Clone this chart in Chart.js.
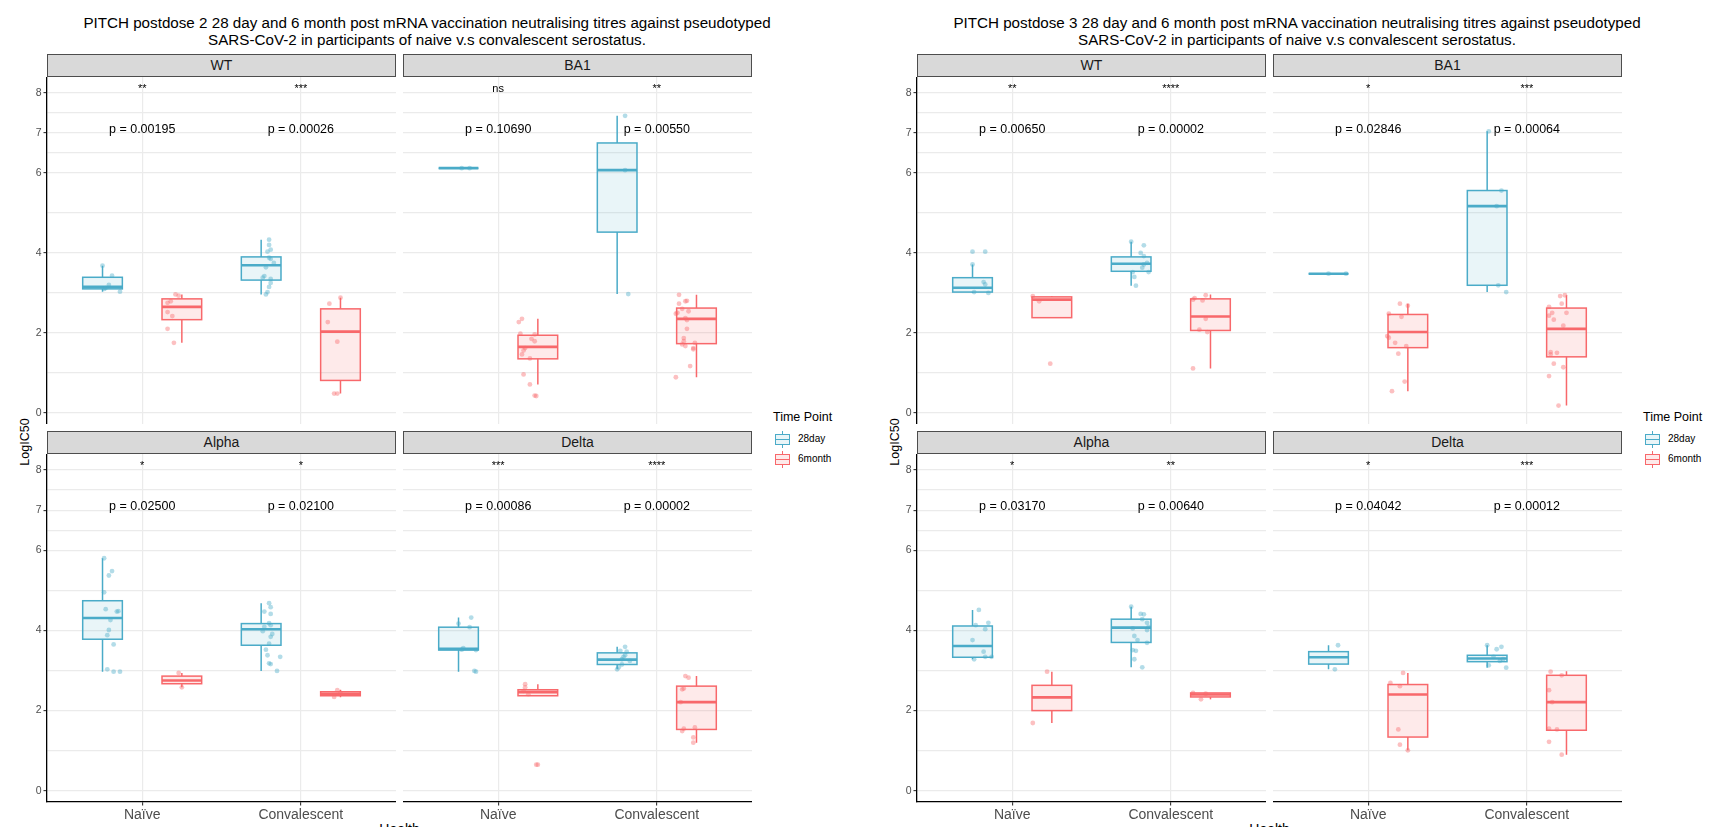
<!DOCTYPE html>
<html>
<head>
<meta charset="utf-8">
<title>PITCH neutralising titres</title>
<script src="https://cdn.jsdelivr.net/npm/chart.js@4.4.1/dist/chart.umd.min.js"></script>
<style>
  body { margin: 0; width: 1721px; height: 827px; overflow: hidden; background: #fff; position: relative;
         font-family: "Liberation Sans", Arial, Helvetica, sans-serif; }
  canvas { position: absolute; }
  .title { position: absolute; width: 900px; text-align: center; font-size: 15.2px; line-height: 16.7px; color: #000; white-space: nowrap; }
  .strip { position: absolute; box-sizing: border-box; height: 23px; background: #d9d9d9; border: 1px solid #4d4d4d;
           font-size: 14px; line-height: 21px; text-align: center; color: #1a1a1a; }
  .ytitle { position: absolute; width: 100px; text-align: center; font-size: 12.5px; line-height: 14px;
            transform: rotate(-90deg); transform-origin: 50% 50%; color: #000; }
  .xtitle { position: absolute; width: 100px; text-align: center; font-size: 14px; line-height: 16px; color: #000; }
  .legtitle { position: absolute; font-size: 12.5px; line-height: 14px; color: #000; white-space: nowrap; }
  .legitem { position: absolute; font-size: 10px; line-height: 12px; color: #000; white-space: nowrap; }
  .key { position: absolute; width: 17px; height: 17px; }
  .key .wh { position: absolute; left: 8px; top: 0; width: 1.3px; height: 17px; }
  .key .bx { position: absolute; left: 1px; top: 3px; width: 15px; height: 11px; box-sizing: border-box; border: 1.3px solid; }
  .key .md { position: absolute; left: 1px; top: 8px; width: 15px; height: 1.6px; }
</style>
</head>
<body>
<script>
// ---- data ----
const categories = ['Naïve', 'Convalescent'];
const timePoints = ['28day', '6month'];
const variants = ['WT', 'BA1', 'Alpha', 'Delta'];
const yLabelTicks = [0, 2, 4, 6, 7, 8];
const yGridTicks = [0, 1, 2, 3, 4, 5, 6, 6.5, 7, 7.5, 8];

const titles = [
    ['PITCH postdose 2 28 day and 6 month post mRNA vaccination neutralising titres against pseudotyped',
     'SARS-CoV-2 in participants of naive v.s convalescent serostatus.'],
    ['PITCH postdose 3 28 day and 6 month post mRNA vaccination neutralising titres against pseudotyped',
     'SARS-CoV-2 in participants of naive v.s convalescent serostatus.']
];

// boxes: [lower whisker, Q1, median, Q3, upper whisker]
// order: Naïve 28day, Naïve 6month, Convalescent 28day, Convalescent 6month
// points: [jitter, LogIC50]

// postdose 2
const d2WTBox = [[3.03, 3.10, 3.15, 3.39, 3.68], [1.75, 2.33, 2.65, 2.85, 2.96], [2.96, 3.32, 3.69, 3.90, 4.33], [0.48, 0.81, 2.03, 2.60, 2.88]];
const d2WTPts = [
    [[0.00, 3.68], [0.06, 3.43], [0.04, 3.20], [0.02, 3.12], [0.11, 3.03], [0.01, 3.10]],
    [[-0.04, 2.96], [-0.02, 2.93], [-0.07, 2.79], [-0.09, 2.75], [-0.09, 2.52], [-0.06, 2.42], [-0.09, 2.10], [-0.05, 1.75]],
    [[0.05, 4.33], [0.05, 4.20], [0.06, 4.08], [0.04, 4.03], [0.06, 3.85], [0.05, 3.88], [0.08, 3.75], [0.03, 3.64], [0.02, 3.42],
     [0.01, 3.38], [0.06, 3.35], [0.05, 3.15], [0.04, 3.02], [0.03, 2.96], [0.06, 3.25]],
    [[0.00, 2.88], [-0.07, 2.73], [-0.08, 2.27], [-0.02, 1.78], [-0.02, 0.48], [-0.04, 0.48]]
];
const d2WTP = ['p = 0.00195', 'p = 0.00026'];
const d2WTSig = ['**', '***'];

const d2BA1Box = [[6.12, 6.12, 6.12, 6.12, 6.12], [0.71, 1.35, 1.65, 1.94, 2.35], [2.97, 4.52, 6.07, 6.75, 7.43], [0.89, 1.73, 2.35, 2.62, 2.95]];
const d2BA1Pts = [
    [[0.07, 6.12], [0.02, 6.12]],
    [[-0.10, 2.35], [-0.12, 2.27], [-0.02, 1.96], [-0.11, 1.98], [-0.04, 1.85], [-0.02, 1.79], [-0.08, 1.62], [-0.09, 1.56],
     [-0.10, 1.46], [-0.05, 1.36], [-0.09, 0.96], [-0.05, 0.71], [-0.02, 0.43], [-0.01, 0.42]],
    [[0.05, 7.43], [0.05, 6.07], [0.07, 2.97]],
    [[-0.11, 2.95], [-0.11, 2.73], [-0.07, 2.79], [-0.06, 2.80], [-0.09, 2.60], [-0.12, 2.50], [-0.13, 2.48], [-0.05, 2.54],
     [-0.07, 2.37], [-0.06, 2.32], [-0.06, 2.10], [-0.08, 1.87], [-0.08, 1.79], [-0.01, 1.75], [-0.09, 1.71], [-0.07, 1.67],
     [-0.02, 1.62], [-0.02, 1.59], [-0.04, 1.17], [-0.13, 0.89]]
];
const d2BA1P = ['p = 0.10690', 'p = 0.00550'];
const d2BA1Sig = ['ns', '**'];

const d2AlphaBox = [[2.97, 3.78, 4.31, 4.74, 5.80], [2.58, 2.67, 2.75, 2.86, 2.94], [2.99, 3.63, 4.03, 4.17, 4.68], [2.33, 2.37, 2.42, 2.47, 2.52]];
const d2AlphaPts = [
    [[0.01, 5.80], [0.06, 5.48], [0.04, 5.37], [0.01, 4.95], [0.02, 4.53], [0.10, 4.48], [0.09, 4.47], [0.05, 4.26], [0.04, 4.01],
     [0.03, 3.88], [0.07, 3.65], [0.03, 3.03], [0.07, 2.97], [0.11, 2.97]],
    [[-0.02, 2.94], [0.00, 2.58]],
    [[0.05, 4.68], [0.06, 4.58], [0.02, 4.47], [0.06, 4.41], [0.05, 4.18], [0.06, 4.13], [0.02, 4.09], [0.01, 3.98], [0.07, 3.91],
     [0.06, 3.84], [0.05, 3.67], [0.03, 3.52], [0.04, 3.38], [0.12, 3.34], [0.05, 3.18], [0.06, 3.16], [0.10, 2.99]],
    [[-0.02, 2.51], [-0.04, 2.34], [0.00, 2.44]]
];
const d2AlphaP = ['p = 0.02500', 'p = 0.02100'];
const d2AlphaSig = ['*', '*'];

const d2DeltaBox = [[2.97, 3.51, 3.54, 4.08, 4.32], [2.37, 2.37, 2.46, 2.52, 2.66], [3.03, 3.15, 3.27, 3.44, 3.59], [1.20, 1.53, 2.21, 2.61, 2.86]];
const d2DeltaPts = [
    [[0.08, 4.32], [0.00, 4.17], [0.07, 4.08], [0.03, 3.56], [0.02, 3.52], [0.11, 3.51], [0.10, 2.99], [0.11, 2.97]],
    [[-0.08, 2.66], [-0.08, 2.58], [-0.09, 2.49], [-0.06, 2.41], [-0.01, 0.65], [0.00, 0.65]],
    [[0.05, 3.59], [0.02, 3.49], [0.06, 3.47], [0.05, 3.38], [0.03, 3.28], [0.08, 3.24], [0.03, 3.15], [0.01, 3.08], [0.00, 3.03], [0.04, 3.34]],
    [[-0.07, 2.86], [-0.05, 2.82], [-0.08, 2.55], [-0.09, 2.53], [-0.10, 2.21], [-0.08, 1.55], [-0.01, 1.58], [-0.09, 1.49], [-0.02, 1.33], [-0.02, 1.20]]
];
const d2DeltaP = ['p = 0.00086', 'p = 0.00002'];
const d2DeltaSig = ['***', '****'];

// postdose 3
const d3WTBox = [[3.00, 3.02, 3.13, 3.38, 3.71], [2.38, 2.38, 2.83, 2.90, 2.92], [3.18, 3.54, 3.73, 3.90, 4.28], [1.11, 2.06, 2.41, 2.85, 2.96]];
const d3WTPts = [
    [[0.00, 4.03], [0.08, 4.03], [0.00, 3.71], [0.07, 3.27], [0.08, 3.21], [0.01, 3.02], [0.10, 3.00]],
    [[-0.12, 2.92], [-0.08, 2.79], [-0.01, 1.23]],
    [[0.00, 4.28], [0.08, 4.19], [0.06, 4.00], [0.08, 3.92], [0.10, 3.75], [0.08, 3.71], [0.07, 3.63], [0.11, 3.52], [0.01, 3.52], [0.02, 3.40], [0.03, 3.18]],
    [[-0.03, 2.94], [-0.10, 2.87], [-0.11, 2.83], [-0.05, 2.81], [-0.03, 2.35], [-0.07, 2.08], [-0.02, 2.02], [-0.11, 1.11]]
];
const d3WTP = ['p = 0.00650', 'p = 0.00002'];
const d3WTSig = ['**', '****'];

const d3BA1Box = [[3.48, 3.48, 3.48, 3.48, 3.48], [0.54, 1.63, 2.02, 2.46, 2.73], [3.02, 3.19, 5.17, 5.56, 7.04], [0.18, 1.40, 2.10, 2.62, 2.94]];
const d3BA1Pts = [
    [[0.00, 3.48], [0.11, 3.48]],
    [[-0.05, 2.73], [0.00, 2.68], [-0.12, 2.48], [-0.04, 2.40], [-0.13, 1.92], [-0.12, 1.88], [-0.08, 1.75], [-0.01, 1.67], [-0.06, 1.48], [-0.02, 0.78], [-0.10, 0.54]],
    [[0.01, 7.04], [0.09, 5.56], [0.06, 5.17], [0.07, 3.19], [0.12, 3.02]],
    [[-0.04, 2.92], [-0.01, 2.94], [-0.11, 2.65], [-0.03, 2.73], [-0.09, 2.50], [0.00, 2.50], [-0.11, 2.43], [-0.08, 2.33],
     [-0.02, 2.18], [-0.10, 1.52], [-0.06, 1.50], [-0.10, 1.46], [-0.08, 1.23], [-0.02, 1.14], [-0.11, 0.92], [-0.05, 0.18]]
];
const d3BA1P = ['p = 0.02846', 'p = 0.00064'];
const d3BA1Sig = ['*', '***'];

const d3AlphaBox = [[3.28, 3.33, 3.61, 4.11, 4.51], [1.69, 2.00, 2.33, 2.63, 2.97], [3.08, 3.70, 4.07, 4.28, 4.59], [2.28, 2.34, 2.40, 2.44, 2.44]];
const d3AlphaPts = [
    [[0.04, 4.51], [0.10, 4.19], [0.02, 4.13], [0.08, 4.03], [0.00, 3.76], [0.07, 3.47], [0.08, 3.34], [0.12, 3.34], [0.01, 3.28]],
    [[-0.03, 2.97], [-0.12, 1.69]],
    [[0.00, 4.59], [0.06, 4.41], [0.08, 4.40], [0.07, 4.28], [0.10, 4.19], [0.11, 4.09], [0.01, 4.05], [0.10, 4.01], [0.02, 3.86],
     [0.04, 3.76], [0.10, 3.69], [0.01, 3.51], [0.03, 3.49], [0.02, 3.28], [0.07, 3.08]],
    [[-0.11, 2.44], [-0.03, 2.42], [-0.06, 2.28]]
];
const d3AlphaP = ['p = 0.03170', 'p = 0.00640'];
const d3AlphaSig = ['*', '**'];

const d3DeltaBox = [[3.03, 3.16, 3.33, 3.47, 3.63], [1.01, 1.34, 2.40, 2.65, 2.94], [3.07, 3.22, 3.30, 3.38, 3.63], [0.90, 1.51, 2.21, 2.88, 2.98]];
const d3DeltaPts = [
    [[0.06, 3.63], [0.04, 3.03]],
    [[-0.03, 2.94], [-0.11, 2.69], [-0.05, 2.61], [-0.06, 1.53], [-0.05, 1.15], [0.00, 1.01]],
    [[0.00, 3.63], [0.09, 3.59], [0.06, 3.53], [0.04, 3.34], [0.08, 3.24], [0.10, 3.28], [0.01, 3.13], [0.12, 3.07]],
    [[-0.10, 2.97], [-0.03, 2.88], [-0.11, 2.51], [-0.09, 2.21], [-0.11, 1.55], [-0.06, 1.53], [-0.11, 1.22], [-0.03, 0.90]]
];
const d3DeltaP = ['p = 0.04042', 'p = 0.00012'];
const d3DeltaSig = ['*', '***'];

// ---- layout / style ----
const FONT = '"Liberation Sans", Arial, Helvetica, sans-serif';
const lineCol = ['#4aabc8', '#f8686b'];
const fillCol = ['rgba(74,171,200,0.12)', 'rgba(248,104,107,0.14)'];
const pointCol = ['rgba(74,171,200,0.42)', 'rgba(248,104,107,0.42)'];
const dodge = [-0.25, 0.25];
const boxW = 0.25;
const sigY = 8.03;   // baseline of significance stars
const pY = 7.0;      // baseline of p-value labels

const figX = [0, 870];
const axisW = 47, panelW = 349, colX = [47, 403];
const rowY = [77, 454], rowH = [347, 348], xAxisH = 25;

const facets = [
    { fig: 0, row: 0, col: 0, name: 'WT', box: d2WTBox, pts: d2WTPts, p: d2WTP, sig: d2WTSig },
    { fig: 0, row: 0, col: 1, name: 'BA1', box: d2BA1Box, pts: d2BA1Pts, p: d2BA1P, sig: d2BA1Sig },
    { fig: 0, row: 1, col: 0, name: 'Alpha', box: d2AlphaBox, pts: d2AlphaPts, p: d2AlphaP, sig: d2AlphaSig },
    { fig: 0, row: 1, col: 1, name: 'Delta', box: d2DeltaBox, pts: d2DeltaPts, p: d2DeltaP, sig: d2DeltaSig },
    { fig: 1, row: 0, col: 0, name: 'WT', box: d3WTBox, pts: d3WTPts, p: d3WTP, sig: d3WTSig },
    { fig: 1, row: 0, col: 1, name: 'BA1', box: d3BA1Box, pts: d3BA1Pts, p: d3BA1P, sig: d3BA1Sig },
    { fig: 1, row: 1, col: 0, name: 'Alpha', box: d3AlphaBox, pts: d3AlphaPts, p: d3AlphaP, sig: d3AlphaSig },
    { fig: 1, row: 1, col: 1, name: 'Delta', box: d3DeltaBox, pts: d3DeltaPts, p: d3DeltaP, sig: d3DeltaSig }
];

function addDiv(cls, text, style) {
    const el = document.createElement('div');
    el.className = cls;
    if (text) el.textContent = text;
    Object.assign(el.style, style);
    document.body.appendChild(el);
    return el;
}

// box, whisker and median drawing, done in data units through the chart scales
function boxPlugin(f) {
    return {
        id: 'boxes',
        beforeDatasetsDraw(chart) {
            const { ctx, scales: { x, y } } = chart;
            ctx.save();
            f.box.forEach((b, i) => {
                const tp = i % 2;
                const cx = Math.floor(i / 2) + 1 + dodge[tp];
                const x0 = x.getPixelForValue(cx - boxW / 2);
                const x1 = x.getPixelForValue(cx + boxW / 2);
                const xm = x.getPixelForValue(cx);
                const [lo, q1, med, q3, hi] = b.map(v => y.getPixelForValue(v));
                ctx.strokeStyle = lineCol[tp];
                ctx.lineWidth = 1.5;
                ctx.beginPath();
                ctx.moveTo(xm, hi); ctx.lineTo(xm, q3);
                ctx.moveTo(xm, q1); ctx.lineTo(xm, lo);
                ctx.stroke();
                ctx.fillStyle = fillCol[tp];
                ctx.fillRect(x0, q3, x1 - x0, q1 - q3);
                ctx.strokeRect(x0, q3, x1 - x0, q1 - q3);
                ctx.lineWidth = 2.6;
                ctx.beginPath();
                ctx.moveTo(x0, med); ctx.lineTo(x1, med);
                ctx.stroke();
            });
            ctx.restore();
        },
        afterDatasetsDraw(chart) {
            const { ctx, scales: { x, y } } = chart;
            ctx.save();
            ctx.fillStyle = '#000';
            ctx.textAlign = 'center';
            ctx.textBaseline = 'alphabetic';
            ctx.font = '11px ' + FONT;
            f.sig.forEach((s, c) => ctx.fillText(s, x.getPixelForValue(c + 1), y.getPixelForValue(sigY)));
            ctx.font = '12.5px ' + FONT;
            f.p.forEach((s, c) => ctx.fillText(s, x.getPixelForValue(c + 1), y.getPixelForValue(pY)));
            ctx.restore();
        }
    };
}

function drawFacet(f) {
    const left = figX[f.fig] + (f.col === 0 ? 0 : colX[1]);
    const w = f.col === 0 ? axisW + panelW : panelW;
    const h = rowH[f.row] + (f.row === 1 ? xAxisH : 0);
    const canvas = document.createElement('canvas');
    canvas.width = w; canvas.height = h;
    canvas.style.left = left + 'px';
    canvas.style.top = rowY[f.row] + 'px';
    document.body.appendChild(canvas);

    // strip label
    addDiv('strip', f.name, {
        left: (figX[f.fig] + colX[f.col]) + 'px',
        top: (rowY[f.row] - 23) + 'px',
        width: panelW + 'px'
    });

    const datasets = [0, 1].map(tp => ({
        label: timePoints[tp],
        data: f.pts.flatMap((arr, i) => i % 2 !== tp ? [] :
            arr.map(([j, v]) => ({ x: Math.floor(i / 2) + 1 + dodge[tp] + j, y: v }))),
        backgroundColor: pointCol[tp],
        borderWidth: 0,
        pointRadius: 2.4
    }));

    const showY = f.col === 0, showX = f.row === 1;
    new Chart(canvas, {
        type: 'scatter',
        data: { datasets },
        options: {
            responsive: false,
            animation: false,
            events: [],
            devicePixelRatio: 1,
            layout: { padding: 0, autoPadding: false },
            plugins: { legend: { display: false }, tooltip: { enabled: false } },
            scales: {
                x: {
                    type: 'linear', min: 0.4, max: 2.6,
                    afterBuildTicks: s => { s.ticks = [1, 2].map(v => ({ value: v })); },
                    afterFit: s => { s.height = showX ? xAxisH : 0; s.paddingLeft = 0; s.paddingRight = 0; },
                    grid: { color: '#ebebeb', lineWidth: 1.2, drawTicks: showX, tickLength: 3.5, tickColor: '#333', tickWidth: 1.1 },
                    border: { display: showX, color: '#000', width: 1.3 },
                    ticks: {
                        display: showX, autoSkip: false, maxRotation: 0, padding: 1, color: '#4d4d4d',
                        font: { size: 14, family: FONT }, callback: v => categories[v - 1]
                    }
                },
                y: {
                    type: 'linear', min: -0.28, max: 8.4,
                    afterBuildTicks: s => { s.ticks = yGridTicks.map(v => ({ value: v })); },
                    afterFit: s => { s.width = showY ? axisW : 0; s.paddingTop = 0; s.paddingBottom = 0; },
                    grid: {
                        color: '#ebebeb', lineWidth: 1.2, drawTicks: showY, tickLength: 3.5, tickWidth: 1.1,
                        tickColor: ctx => yLabelTicks.includes(ctx.tick && ctx.tick.value) ? '#333' : 'rgba(0,0,0,0)'
                    },
                    border: { display: showY, color: '#000', width: 1.3 },
                    ticks: {
                        display: showY, autoSkip: false, padding: 2, color: '#4d4d4d',
                        font: { size: 10.5, family: FONT },
                        callback: v => yLabelTicks.includes(v) ? String(v) : ''
                    }
                }
            }
        },
        plugins: [boxPlugin(f)]
    });
}

function drawFigure(fi) {
    const fx = figX[fi];
    addDiv('title', titles[fi][0], { left: (fx + 427 - 450) + 'px', top: '15px' });
    addDiv('title', titles[fi][1], { left: (fx + 427 - 450) + 'px', top: '31.7px' });
    addDiv('ytitle', 'LogIC50', { left: (fx + 25 - 50) + 'px', top: (441.7 - 7) + 'px' });
    addDiv('xtitle', 'Health', { left: (fx + 399.5 - 50) + 'px', top: '821px' });

    // legend
    const lx = fx + 773;
    addDiv('legtitle', 'Time Point', { left: lx + 'px', top: (416.7 - 7) + 'px' });
    timePoints.forEach((tp, i) => {
        const cy = 439 + i * 20;
        const key = addDiv('key', '', { left: (lx + 1) + 'px', top: (cy - 8.5) + 'px' });
        const wh = document.createElement('div'); wh.className = 'wh'; wh.style.background = lineCol[i];
        const bx = document.createElement('div'); bx.className = 'bx'; bx.style.borderColor = lineCol[i];
        bx.style.background = '#fff';
        bx.style.boxShadow = 'inset 0 0 0 20px ' + fillCol[i];
        const md = document.createElement('div'); md.className = 'md'; md.style.background = lineCol[i];
        key.appendChild(wh); key.appendChild(bx); key.appendChild(md);
        addDiv('legitem', tp, { left: (lx + 25) + 'px', top: (cy - 6) + 'px' });
    });
}

drawFigure(0);
drawFigure(1);
facets.forEach(drawFacet);
</script>
</body>
</html>
